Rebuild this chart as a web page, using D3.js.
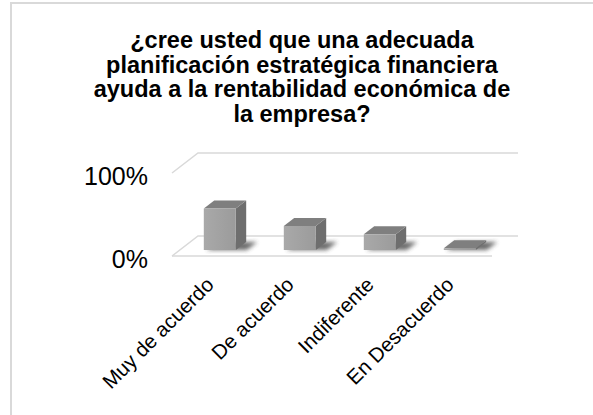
<!DOCTYPE html>
<html>
<head>
<meta charset="utf-8">
<script src="https://cdn.jsdelivr.net/npm/d3@7"></script>
<style>
  body { margin: 0; background: #fff; }
  text { font-family: "Liberation Sans", Arial, sans-serif; }
</style>
</head>
<body>
<div id="chart"></div>
<script>
// datos
var categories = ["Muy de acuerdo", "De acuerdo", "Indiferente", "En Desacuerdo"]
var values = [0.50, 0.29, 0.19, 0.02]
var tickValues = [0, 1]
var titleLines = ["¿cree usted que una adecuada",
                  "planificación estratégica financiera",
                  "ayuda a la rentabilidad económica de",
                  "la empresa?"]

var width = 593
var height = 415

// profundidad del efecto 3D
var depthX = 26
var depthY = -20
var barFront = 0.3
var barBack = 0.7

var svg = d3.select('#chart').append('svg')
            .attr('width', width)
            .attr('height', height)

var defs = svg.append('defs')
defs.append('filter').attr('id', 'shadow')
    .attr('x', '-50%').attr('y', '-50%').attr('width', '200%').attr('height', '200%')
    .append('feGaussianBlur').attr('stdDeviation', 2.2)

var grad = defs.append('linearGradient').attr('id', 'front')
grad.append('stop').attr('offset', '0%').attr('stop-color', '#a9a9a9')
grad.append('stop').attr('offset', '100%').attr('stop-color', '#9b9b9b')

// marco
svg.append('rect')
   .attr('x', 11).attr('y', 3)
   .attr('width', 600).attr('height', 430)
   .attr('fill', '#fff')
   .attr('stroke', '#d9d9d9')
   .attr('stroke-width', 2)

// titulo
svg.append('text')
   .attr('x', 302)
   .attr('y', 48)
   .attr('text-anchor', 'middle')
   .style('font-size', '23.5px')
   .style('font-weight', 'bold')
   .selectAll('tspan')
   .data(titleLines)
   .enter().append('tspan')
   .attr('x', 302)
   .attr('dy', function(d, i) { return i == 0 ? 0 : 24.7 })
   .text(function(d) { return d })

var x = d3.scaleBand()
          .domain(categories)
          .range([172, 492])
          .paddingInner(0.6)
          .paddingOuter(0.3)

var y = d3.scaleLinear()
          .domain([0, 1])
          .range([256, 173])

function pt(px, v, f) {
  return [px + f * depthX, y(v) + f * depthY]
}
function poly(points) {
  return points.map(function(p) { return p.join(',') }).join(' ')
}

var x0 = x.range()[0]
var x1 = x.range()[1]
var grid = svg.append('g')
              .attr('stroke', '#d9d9d9')
              .attr('stroke-width', 1.5)
              .attr('fill', 'none')

tickValues.forEach(function(t) {
  grid.append('polyline')
      .attr('points', poly([pt(x0, t, 0), pt(x0, t, 1), pt(x1, t, 1)]))
})
grid.append('line')
    .attr('x1', x0).attr('y1', y(0))
    .attr('x2', x1).attr('y2', y(0))

// sombras
svg.append('g').selectAll('polygon')
   .data(values)
   .enter().append('polygon')
   .attr('filter', 'url(#shadow)')
   .attr('fill', '#3a3a3a')
   .attr('opacity', 0.75)
   .attr('points', function(d, i) {
     var a = x(categories[i]) + 3
     var b = a + x.bandwidth() + 8
     return poly([pt(a, 0, barFront), pt(b, 0, barFront), pt(b, 0, barBack), pt(a, 0, barBack)])
   })

// barras
var bars = svg.append('g').selectAll('.bar')
              .data(values)
              .enter().append('g')
              .attr('class', 'bar')

bars.append('polygon')
    .attr('fill', '#6e6e6e')
    .attr('points', function(d, i) {
      var b = x(categories[i]) + x.bandwidth()
      return poly([pt(b, 0, barFront), pt(b, 0, barBack), pt(b, d, barBack), pt(b, d, barFront)])
    })

bars.append('polygon')
    .attr('fill', '#7f7f7f')
    .attr('points', function(d, i) {
      var a = x(categories[i])
      var b = a + x.bandwidth()
      return poly([pt(a, d, barFront), pt(b, d, barFront), pt(b, d, barBack), pt(a, d, barBack)])
    })

bars.append('polygon')
    .attr('fill', 'url(#front)')
    .attr('points', function(d, i) {
      var a = x(categories[i])
      var b = a + x.bandwidth()
      return poly([pt(a, 0, barFront), pt(b, 0, barFront), pt(b, d, barFront), pt(a, d, barFront)])
    })

// eje y
var yAxis = svg.append('g')
               .attr('transform', 'translate(' + x0 + ',3)')
               .call(d3.axisLeft(y)
                       .tickValues(tickValues)
                       .tickSize(0)
                       .tickPadding(24)
                       .tickFormat(d3.format('.0%')))
yAxis.select('.domain').remove()
yAxis.selectAll('text')
     .style('font-family', '"Liberation Sans", Arial, sans-serif')
     .style('font-size', '25px')
     .attr('fill', '#000')

// etiquetas de categoria
svg.append('g').selectAll('text')
   .data(categories)
   .enter().append('text')
   .attr('text-anchor', 'end')
   .style('font-size', '20.5px')
   .attr('transform', function(d) {
     return 'translate(' + (x(d) + x.bandwidth() / 2 + 3) + ',' + (y(0) + 30) + ') rotate(-45)'
   })
   .text(function(d) { return d })
</script>
</body>
</html>
